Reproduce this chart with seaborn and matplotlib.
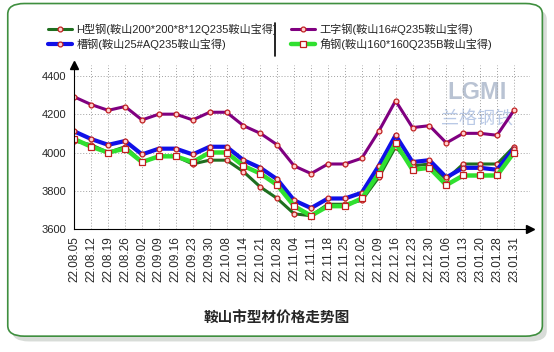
import numpy as np
import matplotlib.pyplot as plt
import seaborn as sns
from matplotlib.patches import FancyBboxPatch
from matplotlib.lines import Line2D

dates = ["22.08.05", "22.08.12", "22.08.19", "22.08.26", "22.09.02", "22.09.09",
         "22.09.16", "22.09.23", "22.09.30", "22.10.08", "22.10.14", "22.10.21",
         "22.10.28", "22.11.04", "22.11.11", "22.11.18", "22.11.25", "22.12.02",
         "22.12.09", "22.12.16", "22.12.23", "22.12.30", "23.01.06", "23.01.13",
         "23.01.20", "23.01.28", "23.01.31"]

h_beam = [4060, 4040, 4000, 4030, 3950, 3980, 3980, 3940, 3960, 3960, 3900, 3820,
          3760, 3680, 3670, 3730, 3730, 3750, 3870, 4030, 3930, 3940, 3860, 3940,
          3940, 3940, 4030]
i_beam = [4290, 4250, 4220, 4240, 4170, 4200, 4200, 4170, 4210, 4210, 4140, 4100,
          4040, 3930, 3890, 3940, 3940, 3970, 4110, 4270, 4130, 4140, 4050, 4100,
          4100, 4090, 4220]
channel = [4110, 4070, 4040, 4060, 3990, 4020, 4020, 3990, 4030, 4030, 3960, 3920,
           3860, 3750, 3710, 3760, 3760, 3790, 3930, 4090, 3950, 3960, 3870, 3920,
           3920, 3910, 4020]
angle = [4070, 4030, 4000, 4020, 3950, 3980, 3980, 3950, 4000, 4000, 3930, 3890,
         3830, 3720, 3670, 3720, 3720, 3760, 3890, 4050, 3910, 3920, 3830, 3880,
         3880, 3880, 4000]

names = ["H型钢(鞍山200*200*8*12Q235鞍山宝得)", "工字钢(鞍山16#Q235鞍山宝得)",
         "槽钢(鞍山25#AQ235鞍山宝得)", "角钢(鞍山160*160Q235B鞍山宝得)"]
title = "鞍山市型材价格走势图"
yticks = [3600, 3800, 4000, 4200, 4400]

sns.set_style("white")
plt.rcParams["font.family"] = ["Liberation Sans", "Noto Sans CJK SC", "DejaVu Sans"]

fig = plt.figure(figsize=(5.54, 3.52), dpi=100)

# frame with shadow
fig.add_artist(FancyBboxPatch((0.022, 0.030), 0.965, 0.945, boxstyle="round,pad=0,rounding_size=0.03",
                              transform=fig.transFigure, facecolor="#d8dcd8", edgecolor="none", zorder=0))
fig.add_artist(FancyBboxPatch((0.014, 0.045), 0.965, 0.945, boxstyle="round,pad=0,rounding_size=0.03",
                              transform=fig.transFigure, facecolor="white", edgecolor="#3f8f3f",
                              linewidth=1.2, zorder=0))

ax = fig.add_axes([0.1327, 0.349, 0.824, 0.466])
ax.set_facecolor("none")
x = np.arange(len(dates))

styles = [
    (h_beam, "#1f6f1f", 2.2, "o", 3.5, "#ffd0d0"),
    (i_beam, "#800080", 2.2, "o", 3.5, "#ffd0d0"),
    (channel, "#1010e8", 3.0, "o", 3.5, "#ffd0d0"),
    (angle, "#30e030", 3.2, "s", 4.5, "white"),
]
for (vals, col, lw, mk, ms, mfc), name in zip(styles, names):
    sns.lineplot(x=x, y=vals, ax=ax, color=col, linewidth=lw, marker=mk, markersize=ms,
                 markerfacecolor=mfc, markeredgecolor="#c02020", markeredgewidth=0.9,
                 label=name, legend=False)

ax.set_xlim(-0.05, 26.95)
ax.set_ylim(3600, 4456)
ax.set_yticks(yticks)
ax.set_yticklabels([str(v) for v in yticks], fontsize=8)
ax.set_xticks(x)
ax.set_xticklabels(dates, rotation=90, fontsize=8.5)
ax.grid(True, color="#a0a0a0", linestyle=(0, (1, 2)), linewidth=0.7)
for s in ["top", "right"]:
    ax.spines[s].set_visible(False)
for s in ["left", "bottom"]:
    ax.spines[s].set_color("black")
    ax.spines[s].set_linewidth(0.8)
ax.tick_params(axis="both", length=3, width=0.8, color="black", pad=2)
ax.plot(0, 1, marker="^", color="black", markersize=6, transform=ax.transAxes, clip_on=False)
ax.plot(1, 0, marker=">", color="black", markersize=6, transform=ax.transAxes, clip_on=False)

# watermark
ax.text(0.884, 0.835, "LGMI", transform=ax.transAxes, ha="center", va="center", fontsize=17,
        fontweight="bold", color="#a8b4c8", alpha=0.8, zorder=0)
ax.text(0.884, 0.665, "兰格钢铁", transform=ax.transAxes, ha="center", va="center", fontsize=13,
        color="#a8bce0", alpha=0.8, zorder=0)

handles, labels = ax.get_legend_handles_labels()
order = [0, 2, 1, 3]
fig.legend([handles[i] for i in order], [labels[i] for i in order], ncol=2, loc="upper left",
           bbox_to_anchor=(0.078, 0.945), frameon=False, fontsize=8, handlelength=2.2,
           handletextpad=0.4, columnspacing=1.2, labelspacing=0.25, borderaxespad=0)
fig.add_artist(Line2D([0.496, 0.496], [0.84, 0.935], color="black", linewidth=1.2,
                      transform=fig.transFigure))

fig.text(0.499, 0.095, title, ha="center", va="center", fontsize=10.5, fontweight="bold")

fig.savefig("out.png", dpi=100)
